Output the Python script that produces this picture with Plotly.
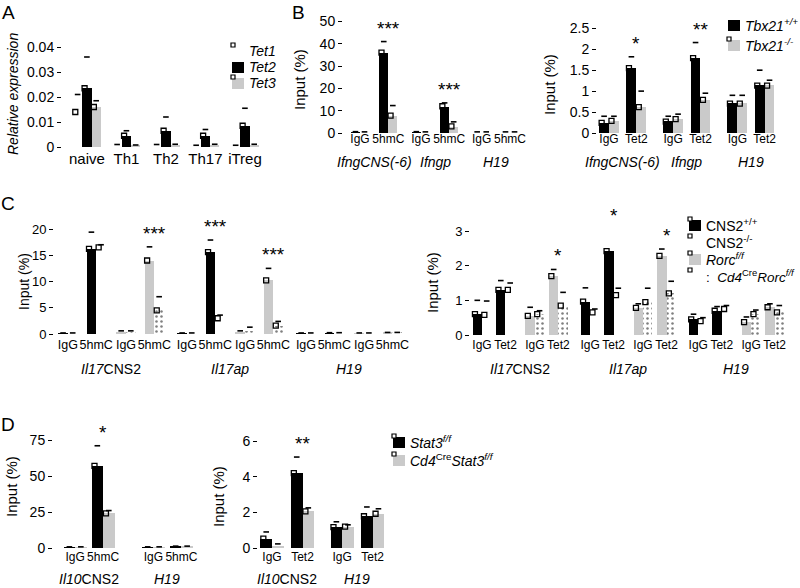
import plotly.graph_objects as go

# ---------------- data ----------------
# Panel A
A_cells = ["naive", "Th1", "Th2", "Th17", "iTreg"]
A_tet1 = [0.014, 0.0005, 0.0005, 0.0003, 0.0003]
A_tet2 = [0.0235, 0.0045, 0.0065, 0.0045, 0.0085]
A_tet3 = [0.016, 0.0005, 0.0008, 0.0008, 0.0008]
A_tet1_err = [0.007, 0.0005, 0.0005, 0.0004, 0.0004]
A_tet2_err = [0.0125, 0.002, 0.0055, 0.0025, 0.007]
A_tet3_err = [0.0025, 0.0003, 0.0003, 0.0003, 0.0003]
A_series = ["<i>Tet1</i>", "<i>Tet2</i>", "<i>Tet3</i>"]

# Panel B
B_loci = ["<i>IfngCNS(-6)</i>", "<i>Ifngp</i>", "<i>H19</i>"]
B_left_ticks = ["IgG", "5hmC", "IgG", "5hmC", "IgG", "5hmC"]
B_left_wt = [0.3, 36, 0.3, 12, 0.2, 0.2]
B_left_ko = [0.2, 7.8, 0.2, 3.0, 0.2, 0.2]
B_left_wt_err = [0.3, 5, 0.3, 1.5, 0.3, 0.3]
B_left_ko_err = [0.3, 4.5, 0.3, 2.0, 0.3, 0.3]
B_left_sig = ["", "***", "", "***", "", ""]

B_right_ticks = ["IgG", "Tet2", "IgG", "Tet2", "IgG", "Tet2"]
B_right_wt = [0.24, 1.55, 0.27, 1.79, 0.70, 1.13]
B_right_ko = [0.29, 0.62, 0.33, 0.79, 0.70, 1.13]
B_right_wt_err = [0.16, 0.27, 0.13, 0.37, 0.20, 0.37]
B_right_ko_err = [0.11, 0.38, 0.12, 0.16, 0.20, 0.13]
B_right_sig = ["", "*", "", "**", "", ""]
B_series = ["<i>Tbx21</i><sup><i>+/+</i></sup>", "<i>Tbx21</i><sup><i>-/-</i></sup>"]

# Panel C  (per locus: IgG, 5hmC/Tet2 for each genotype pair)
C_loci = ["<i>Il17</i>CNS2", "<i>Il17ap</i>", "<i>H19</i>"]
C_left_ticks = ["IgG", "5hmC", "IgG", "5hmC"] * 3
C_left_cns2_wt = [0.1, 16.2, 0.1, 15.6, 0.1, 0.15]
C_left_cns2_ko = [0.1, 16.5, 0.1, 3.0, 0.1, 0.15]
C_left_rorc_ff = [0.4, 14.0, 0.3, 10.2, 0.1, 0.2]
C_left_rorc_cko = [0.4, 4.5, 0.5, 1.6, 0.1, 0.2]
C_left_cns2_wt_err = [0.1, 3.2, 0.1, 2.3, 0.1, 0.1]
C_left_cns2_ko_err = [0.1, 0.5, 0.1, 0.6, 0.1, 0.1]
C_left_rorc_ff_err = [0.2, 2.6, 0.3, 2.3, 0.1, 0.1]
C_left_rorc_cko_err = [0.2, 2.6, 0.8, 0.8, 0.1, 0.1]
C_left_cns2_sig = ["", "", "", "***", "", ""]
C_left_rorc_sig = ["", "***", "", "***", "", ""]

C_right_ticks = ["IgG", "Tet2", "IgG", "Tet2"] * 3
C_right_cns2_wt = [0.60, 1.30, 0.96, 2.42, 0.45, 0.70]
C_right_cns2_ko = [0.58, 1.30, 0.65, 1.15, 0.40, 0.75]
C_right_rorc_ff = [0.55, 1.70, 0.78, 2.28, 0.37, 0.80]
C_right_rorc_cko = [0.60, 0.85, 0.95, 1.20, 0.60, 0.65]
C_right_cns2_wt_err = [0.40, 0.27, 0.40, 0.65, 0.15, 0.12]
C_right_cns2_ko_err = [0.40, 0.20, 0.10, 0.20, 0.10, 0.10]
C_right_rorc_ff_err = [0.25, 0.19, 0.12, 0.20, 0.15, 0.10]
C_right_rorc_cko_err = [0.10, 0.38, 0.40, 0.35, 0.12, 0.20]
C_right_cns2_sig = ["", "", "", "*", "", ""]
C_right_rorc_sig = ["", "*", "", "*", "", ""]
C_series = ["CNS2<sup>+/+</sup>", "CNS2<sup>-/-</sup>", "<i>Rorc</i><sup><i>f/f</i></sup>",
            "<i>Cd4</i><sup>Cre</sup><i>Rorc</i><sup><i>f/f</i></sup>"]

# Panel D
D_loci = ["<i>Il10</i>CNS2", "<i>H19</i>"]
D_left_ticks = ["IgG", "5hmC", "IgG", "5hmC"]
D_left_ff = [0.3, 57, 0.3, 0.8]
D_left_cko = [0.3, 24, 0.3, 0.8]
D_left_ff_err = [0.5, 14, 0.5, 0.5]
D_left_cko_err = [0.5, 2, 0.5, 0.5]
D_left_sig = ["", "*", "", ""]

D_right_ticks = ["IgG", "Tet2", "IgG", "Tet2"]
D_right_ff = [0.53, 4.2, 1.17, 1.78]
D_right_cko = [0.13, 2.05, 1.20, 1.92]
D_right_ff_err = [0.37, 0.9, 0.30, 0.52]
D_right_cko_err = [0.10, 0.2, 0.10, 0.28]
D_right_sig = ["", "**", "", ""]
D_series = ["<i>Stat3</i><sup><i>f/f</i></sup>", "<i>Cd4</i><sup>Cre</sup><i>Stat3</i><sup><i>f/f</i></sup>"]

# ---------------- styling / layout helpers ----------------
W, H = 800, 588
FONT = "Liberation Sans, Arial, Helvetica, sans-serif"
BLACK, GRAY, WHITE = "#000000", "#cacaca", "#ffffff"
DOT = dict(shape=".", fgcolor="black", bgcolor="white", size=5, solidity=0.2)


def px(x):
    return x / W


def py(y):
    return 1 - y / H


fig = go.Figure()
annotations = []
shapes = []
yranges = {}


def setup_axes(i, xr, xdom, yr, ydom, ytv, ytt, xtv, xtt, xfont=12, standoff=0, yfont=14):
    sx = "" if i == 1 else str(i)
    yranges[i] = yr
    fig.layout["xaxis" + sx] = dict(
        domain=[px(xdom[0]), px(xdom[1])], range=xr, anchor="y" + sx, fixedrange=True,
        showline=False, showgrid=False, zeroline=False, ticks="", tickangle=0, automargin=False,
        ticklabeloverflow="allow",
        tickvals=xtv, ticktext=xtt, tickfont=dict(size=xfont, color="black", family=FONT),
        ticklabelstandoff=standoff,
    )
    fig.layout["yaxis" + sx] = dict(
        domain=[py(ydom[0]), py(ydom[1])], range=yr, anchor="x" + sx, fixedrange=True,
        showline=False, showgrid=False, zeroline=False, ticks="outside", automargin=False,
        ticklen=4, tickwidth=1, tickcolor="black", ticklabeloverflow="allow",
        tickvals=ytv, ticktext=ytt, tickfont=dict(size=yfont, color="black", family=FONT),
    )


def add_bars(i, xs, vals, errs, w, off, color, name, ymax, pattern=None):
    sx = "" if i == 1 else str(i)
    marker = dict(color=color, line=dict(width=0))
    if pattern:
        marker["pattern"] = pattern
    fig.add_trace(go.Bar(
        x=xs, y=vals, width=w, offset=off, marker=marker, name=name,
        xaxis="x" + sx, yaxis="y" + sx, showlegend=False,
    ))
    # error caps
    fig.add_trace(go.Scatter(
        x=[x + off + w / 2 for x in xs], y=[v + e for v, e in zip(vals, errs)],
        mode="markers", marker=dict(symbol="line-ew", size=4, line=dict(width=1.6, color="black")),
        xaxis="x" + sx, yaxis="y" + sx, showlegend=False, cliponaxis=False, hoverinfo="skip",
    ))
    # replicate markers at bar tops
    sel = [(x, v) for x, v in zip(xs, vals) if v > 0.03 * ymax]
    if sel:
        fig.add_trace(go.Scatter(
            x=[x + off + 0.25 * w for x, v in sel], y=[v for x, v in sel],
            mode="markers", marker=dict(symbol="square-open", size=5, color="black",
                                        line=dict(width=1.3, color="black")),
            xaxis="x" + sx, yaxis="y" + sx, showlegend=False, cliponaxis=False, hoverinfo="skip",
        ))


def add_stars(i, xs, sig, tops, size=19):
    sx = "" if i == 1 else str(i)
    y0, y1 = yranges[i]
    for x, s, t in zip(xs, sig, tops):
        if s:
            annotations.append(dict(x=x, y=(t - y0) / (y1 - y0), xref="x" + sx,
                                    yref="y" + sx + " domain", text=s,
                                    showarrow=False, yanchor="bottom", yshift=1,
                                    font=dict(size=size, family=FONT, color="black")))


def text_px(x, y, s, size=14, angle=0, xanchor="center"):
    annotations.append(dict(x=px(x), y=py(y), xref="paper", yref="paper", text=s,
                            showarrow=False, textangle=angle, xanchor=xanchor, yanchor="middle",
                            font=dict(size=size, family=FONT, color="black")))


def group_labels(i, centers, labels, ypix, size=14):
    sx = "" if i == 1 else str(i)
    for c, lab in zip(centers, labels):
        annotations.append(dict(x=c, y=py(ypix), xref="x" + sx, yref="paper", text=lab,
                                showarrow=False, yanchor="middle",
                                font=dict(size=size, family=FONT, color="black")))


def rect(x0, y0, x1, y1, fill, line=0):
    shapes.append(dict(type="rect", xref="paper", yref="paper",
                       x0=px(x0), x1=px(x1), y0=py(y1), y1=py(y0), fillcolor=fill,
                       line=dict(width=line, color="black")))


def legend_entry(x, y, label, fill=None, small=True, size=14):
    # swatch (x = left of swatch, y = text centre line) followed by label
    if fill is not None:
        rect(x + 1, y - 5, x + 13, y + 6, fill)
    if small:
        rect(x, y - 8, x + 4, y - 4, WHITE, line=1.2)
    text_px(x + 16, y, label, size=size, xanchor="left")


# ---------------- Panel A ----------------
A_pos = list(range(len(A_cells)))
wA = 0.235
setup_axes(1, [-0.63, 4.5], [62, 264.7], [0, 0.04], [147, 47],
           [0, 0.01, 0.02, 0.03, 0.04], ["0", "0.01", "0.02", "0.03", "0.04"],
           A_pos, A_cells, xfont=15, standoff=1)
add_bars(1, A_pos, A_tet1, A_tet1_err, wA, -1.5 * wA, WHITE, A_series[0], 0.04)
add_bars(1, A_pos, A_tet2, A_tet2_err, wA, -0.5 * wA, BLACK, A_series[1], 0.04)
add_bars(1, A_pos, A_tet3, A_tet3_err, wA, 0.5 * wA, GRAY, A_series[2], 0.04)
legend_entry(231, 51, A_series[0], None)
legend_entry(231, 67, A_series[1], BLACK, small=False)
legend_entry(231, 83, A_series[2], GRAY)

# ---------------- Panel B ----------------
B_left_pos = [g * 2.15 + k for g in range(3) for k in range(2)]
wBl = 0.32
setup_axes(2, [-0.6, 5.9], [343, 527], [0, 50], [133, 21.5],
           [0, 10, 20, 30, 40, 50], ["0", "10", "20", "30", "40", "50"],
           B_left_pos, B_left_ticks, standoff=-3)
add_bars(2, B_left_pos, B_left_wt, B_left_wt_err, wBl, -wBl, BLACK, B_series[0], 50)
add_bars(2, B_left_pos, B_left_ko, B_left_ko_err, wBl, 0, GRAY, B_series[1], 50)
add_stars(2, B_left_pos, B_left_sig,
          [max(a + b, c + d) for a, b, c, d in zip(B_left_wt, B_left_wt_err, B_left_ko, B_left_ko_err)])
group_labels(2, [(B_left_pos[2 * g] + B_left_pos[2 * g + 1]) / 2 for g in range(3)], B_loci, 162)

B_right_pos = [g * 2.35 + k for g in range(3) for k in range(2)]
wBr = 0.36
setup_axes(3, [-0.44, 6.3], [597, 781], [0, 2.5], [133, 28.3],
           [0, 0.5, 1, 1.5, 2, 2.5], ["0", "0.5", "1", "1.5", "2", "2.5"],
           B_right_pos, B_right_ticks, standoff=-3)
add_bars(3, B_right_pos, B_right_wt, B_right_wt_err, wBr, -wBr, BLACK, B_series[0], 2.5)
add_bars(3, B_right_pos, B_right_ko, B_right_ko_err, wBr, 0, GRAY, B_series[1], 2.5)
add_stars(3, B_right_pos, B_right_sig,
          [max(a + b, c + d) for a, b, c, d in zip(B_right_wt, B_right_wt_err, B_right_ko, B_right_ko_err)])
group_labels(3, [(B_right_pos[2 * g] + B_right_pos[2 * g + 1]) / 2 for g in range(3)], B_loci, 162)
legend_entry(727, 25, B_series[0], BLACK, small=False)
legend_entry(727, 45, B_series[1], GRAY)

# ---------------- Panel C ----------------


def c_panel(i, locus_step, pair_step, w, xr, xdom, yr, ydom, ytv, ytt, ticks,
            wt, ko, ff, cko, wt_e, ko_e, ff_e, cko_e, cns2_sig, rorc_sig, xfont):
    cns2_pos = [l * locus_step + k for l in range(3) for k in range(2)]
    rorc_pos = [l * locus_step + pair_step + k for l in range(3) for k in range(2)]
    all_pos = sorted(cns2_pos + rorc_pos)
    setup_axes(i, xr, xdom, yr, ydom, ytv, ytt, all_pos, ticks, xfont=xfont, standoff=1, yfont=13)
    top = yr[1]
    add_bars(i, cns2_pos, wt, wt_e, w, -w, BLACK, C_series[0], top)
    add_bars(i, cns2_pos, ko, ko_e, w, 0, WHITE, C_series[1], top)
    add_bars(i, rorc_pos, ff, ff_e, w, -w, GRAY, C_series[2], top)
    add_bars(i, rorc_pos, cko, cko_e, w, 0, WHITE, C_series[3], top, pattern=DOT)
    add_stars(i, cns2_pos, cns2_sig, [max(a + b, c + d) for a, b, c, d in zip(wt, wt_e, ko, ko_e)])
    add_stars(i, rorc_pos, rorc_sig, [max(a + b, c + d) for a, b, c, d in zip(ff, ff_e, cko, cko_e)])
    group_labels(i, [(all_pos[4 * l] + all_pos[4 * l + 3]) / 2 for l in range(3)], C_loci, 369)


c_panel(4, 4.2, 2.05, 0.34, [-0.49, 12.0], [54, 408], [0, 20], [334, 229],
        [0, 5, 10, 15, 20], ["0", "5", "10", "15", "20"], C_left_ticks,
        C_left_cns2_wt, C_left_cns2_ko, C_left_rorc_ff, C_left_rorc_cko,
        C_left_cns2_wt_err, C_left_cns2_ko_err, C_left_rorc_ff_err, C_left_rorc_cko_err,
        C_left_cns2_sig, C_left_rorc_sig, 12.5)
c_panel(5, 4.6, 2.25, 0.40, [-0.51, 13.1], [470, 789.9], [0, 3], [335, 231],
        [0, 1, 2, 3], ["0", "1", "2", "3"], C_right_ticks,
        C_right_cns2_wt, C_right_cns2_ko, C_right_rorc_ff, C_right_rorc_cko,
        C_right_cns2_wt_err, C_right_cns2_ko_err, C_right_rorc_ff_err, C_right_rorc_cko_err,
        C_right_cns2_sig, C_right_rorc_sig, 12)
legend_entry(688, 225, C_series[0], BLACK)
legend_entry(688, 242, C_series[1], None)
legend_entry(688, 259, C_series[2], GRAY)
legend_entry(688, 276, ":  " + C_series[3], None, size=13.5)

# ---------------- Panel D ----------------
D_left_pos = [g * 2.8 + k for g in range(2) for k in range(2)]
wDl = 0.41
setup_axes(6, [-0.79, 4.5], [53, 201], [0, 75], [548, 440],
           [0, 25, 50, 75], ["0", "25", "50", "75"], D_left_pos, D_left_ticks, standoff=0)
add_bars(6, D_left_pos, D_left_ff, D_left_ff_err, wDl, -wDl, BLACK, D_series[0], 75)
add_bars(6, D_left_pos, D_left_cko, D_left_cko_err, wDl, 0, GRAY, D_series[1], 75)
add_stars(6, D_left_pos, D_left_sig,
          [max(a + b, c + d) for a, b, c, d in zip(D_left_ff, D_left_ff_err, D_left_cko, D_left_cko_err)])
group_labels(6, [(D_left_pos[2 * g] + D_left_pos[2 * g + 1]) / 2 for g in range(2)], D_loci, 579)

D_right_pos = [g * 2.3 + k for g in range(2) for k in range(2)]
wDr = 0.38
setup_axes(7, [-0.46, 4.0], [258, 394], [0, 6], [548, 441],
           [0, 2, 4, 6], ["0", "2", "4", "6"], D_right_pos, D_right_ticks, standoff=0)
add_bars(7, D_right_pos, D_right_ff, D_right_ff_err, wDr, -wDr, BLACK, D_series[0], 6)
add_bars(7, D_right_pos, D_right_cko, D_right_cko_err, wDr, 0, GRAY, D_series[1], 6)
add_stars(7, D_right_pos, D_right_sig,
          [max(a + b, c + d) for a, b, c, d in zip(D_right_ff, D_right_ff_err, D_right_cko, D_right_cko_err)])
group_labels(7, [(D_right_pos[2 * g] + D_right_pos[2 * g + 1]) / 2 for g in range(2)], D_loci, 579)
legend_entry(392, 442, D_series[0], BLACK)
legend_entry(392, 460, D_series[1], GRAY)

# ---------------- titles / letters ----------------
text_px(8, 13, "A", size=19)
text_px(298, 12, "B", size=19)
text_px(8, 203, "C", size=19)
text_px(8, 424, "D", size=19)
text_px(13, 94, "<i>Relative expression</i>", size=14, angle=-90)
text_px(299, 80, "Input (%)", size=15, angle=-90)
text_px(549, 85, "Input (%)", size=15, angle=-90)
text_px(24, 282, "Input (%)", size=14, angle=-90)
text_px(432, 283, "Input (%)", size=15, angle=-90)
text_px(11, 487, "Input (%)", size=15, angle=-90)
text_px(218, 497, "Input (%)", size=15, angle=-90)

fig.update_layout(
    width=W, height=H, autosize=False, margin=dict(l=0, r=0, t=0, b=0, autoexpand=False),
    paper_bgcolor="white", plot_bgcolor="white",
    font=dict(family=FONT, color="black", size=13),
    barmode="overlay", bargap=0,
    annotations=annotations, shapes=shapes,
    showlegend=False,
)

fig.write_html(
    "out.html",
    config={"displayModeBar": False, "responsive": False},
    post_script=("document.body.style.margin='0';"
                 "document.documentElement.style.overflow='hidden';"
                 "document.body.style.overflow='hidden';"),
)
